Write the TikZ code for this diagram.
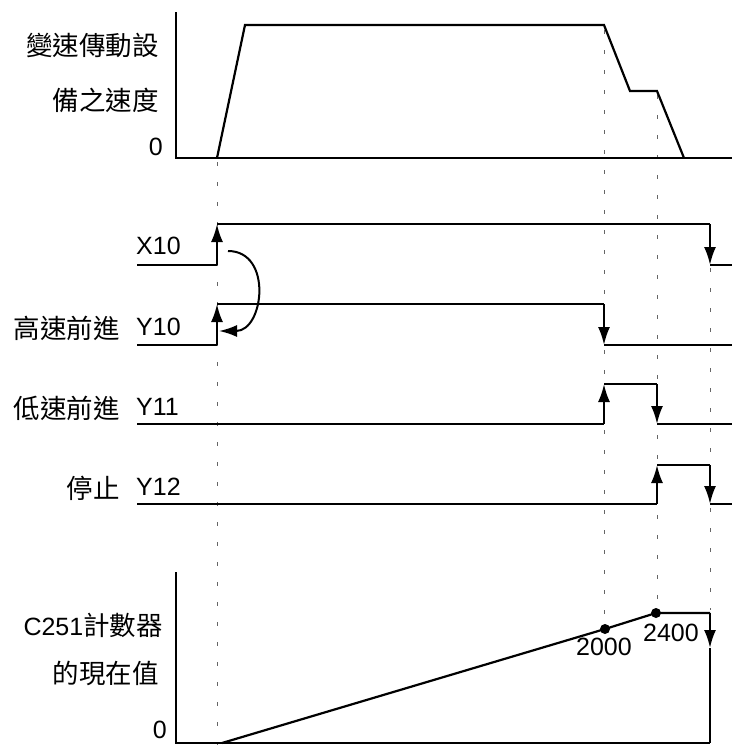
\documentclass[tikz,border=0pt]{standalone}
\usepackage{fontspec}
\setmainfont{Liberation Sans}
\newfontfamily\cjk[Scale=1.06]{Noto Sans CJK TC}
\usetikzlibrary{arrows.meta}
\begin{document}
\begin{tikzpicture}[x=1pt,y=-1pt,
  wave/.style={line width=2.2pt,line join=miter},
  edge/.style={line width=2.2pt,-{Latex[length=18pt,width=12pt]}},
  guide/.style={line width=1pt,draw=black!60,dash pattern=on 4pt off 16pt},
  lbl/.style={inner sep=0pt,anchor=east,font=\fontsize{25}{30}\selectfont},
  num/.style={inner sep=0pt,font=\fontsize{25}{30}\selectfont},
  dot/.style={circle,fill=black,inner sep=0pt,minimum size=10pt}]
\useasboundingbox (0,0) rectangle (732,745);
% guide lines
\draw[guide] (217,162) -- (217,745);
\draw[guide] (604,30) -- (604,626);
\draw[guide] (657,95) -- (657,610);
\draw[guide] (710,268) -- (710,610);
% speed chart
\draw[wave] (176,12) -- (176,158) -- (732,158);
\draw[wave] (217,158) -- (245,25) -- (604,25) -- (630,91) -- (657,91) -- (684,158);
\node[lbl] (sp1) at (159,45) {\cjk 變速傳動設};
\node[lbl] (sp2) at (159,100) {\cjk 備之速度};
\node[lbl] (sp0) at (163,147) {0};
% X10
\coordinate (x0) at (137,265);
\coordinate (xr) at (217,265);
\coordinate (xrh) at (217,224);
\coordinate (xfh) at (710,224);
\coordinate (xf) at (710,265);
\draw[wave] (x0) -- (xr);
\draw[edge] (xr) -- (xrh);
\draw[wave] (xrh) -- (xfh);
\draw[edge] (xfh) -- (xf);
\draw[wave] (xf) -- (732,265);
\node[num,anchor=west] (lx10) at (136,246) {X10};
% Y10
\coordinate (y0) at (137,345);
\coordinate (yr) at (217,345);
\coordinate (yrh) at (217,304);
\coordinate (yfh) at (604,304);
\coordinate (yf) at (604,345);
\draw[wave] (y0) -- (yr);
\draw[edge] (yr) -- (yrh);
\draw[wave] (yrh) -- (yfh);
\draw[edge] (yfh) -- (yf);
\draw[wave] (yf) -- (732,345);
\node[num,anchor=west] (ly10) at (136,327) {Y10};
\node[lbl] (hs) at (120,328) {\cjk 高速前進};
% curved arrow
\coordinate (ca) at (228,251);
\coordinate (cb) at (219,331);
\draw[line width=2pt,-{Latex[length=18pt,width=12pt]}] (ca) .. controls (273,251) and (264,331) .. (cb);
% Y11
\coordinate (a0) at (137,424);
\coordinate (ar) at (604,424);
\coordinate (arh) at (604,384);
\coordinate (afh) at (657,384);
\coordinate (af) at (657,424);
\draw[wave] (a0) -- (ar);
\draw[edge] (ar) -- (arh);
\draw[wave] (arh) -- (afh);
\draw[edge] (afh) -- (af);
\draw[wave] (af) -- (732,424);
\node[num,anchor=west] (ly11) at (136,407) {Y11};
\node[lbl] (ls) at (120,408) {\cjk 低速前進};
% Y12
\coordinate (b0) at (137,504);
\coordinate (br) at (657,504);
\coordinate (brh) at (657,465);
\coordinate (bfh) at (710,465);
\coordinate (bf) at (710,504);
\draw[wave] (b0) -- (br);
\draw[edge] (br) -- (brh);
\draw[wave] (brh) -- (bfh);
\draw[edge] (bfh) -- (bf);
\draw[wave] (bf) -- (732,504);
\node[num,anchor=west] (ly12) at (136,487) {Y12};
\node[lbl] (st) at (120,488) {\cjk 停止};
% counter chart
\draw[wave] (176,572) -- (176,743) -- (710,743);
\node[dot] (p2000) at (605,629) {};
\node[dot] (p2400) at (656,613) {};
\coordinate (c0) at (222,743);
\coordinate (cf) at (710,613);
\coordinate (cm) at (710,648);
\coordinate (ce) at (710,743);
\draw[wave] (c0) -- (p2000.center) -- (p2400.center) -- (cf);
\draw[edge] (cf) -- (cm);
\draw[wave] (cm) -- (ce);
\node[num] (t2000) at (604,647) {2000};
\node[num] (t2400) at (671,633) {2400};
\node[lbl] (cl1) at (163,625) {C251\cjk 計數器};
\node[lbl] (cl2) at (159,673) {\cjk 的現在值};
\node[lbl] (cl0) at (167,730) {0};
\end{tikzpicture}
\end{document}
